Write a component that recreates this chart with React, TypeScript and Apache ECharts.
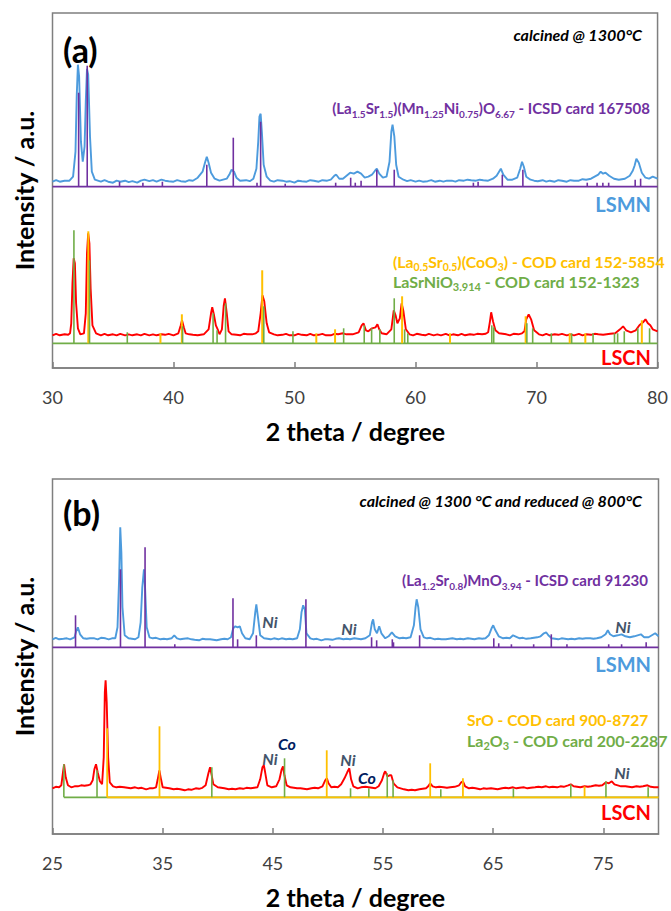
import React, { useEffect, useRef } from "react";
import * as echarts from "echarts";

// ---------------- DATA ----------------
// Panel (a): calcined @ 1300°C, 2θ from 30 to 80
const xTicksA = [30, 40, 50, 60, 70, 80];
const xTicksB = [25, 35, 45, 55, 65, 75];

// stacking offsets (a.u.) of each pattern's reference baseline
const offsetA_LSMN = 181.3;
const offsetA_LSCN = 24.7;
const offsetB_LSMN = 186.7;
const offsetB_LSCN = 36.7;

// LSMN measured pattern, panel (a): [2θ, intensity above its baseline]
const lsmnA: number[][] = [
  [30, 5], [30.3, 6.5], [30.6, 5], [31, 6], [31.4, 6], [31.7, 10], [31.9, 35], [32.0, 90], [32.1, 122], [32.2, 110],
  [32.35, 45], [32.5, 25], [32.65, 40], [32.75, 85], [32.85, 118], [32.95, 112], [33.1, 50], [33.25, 15], [33.5, 7],
  [34, 5], [34.3, 6.5], [34.6, 5], [35, 4], [35.3, 6], [35.6, 5], [36, 6], [36.3, 4.5], [36.6, 5.5], [37, 4], [37.3, 6],
  [37.6, 7], [38, 5.5], [38.3, 6.5], [38.6, 5], [39, 7], [39.3, 6], [39.6, 5.5], [40, 5], [40.3, 6.5], [40.6, 5.5], [41, 5],
  [41.3, 6.5], [41.6, 6], [42, 9], [42.4, 15], [42.6, 24], [42.75, 30], [42.9, 24], [43.1, 14], [43.4, 8], [43.8, 6],
  [44.1, 7], [44.4, 8], [44.65, 13], [44.8, 17], [45, 15], [45.2, 9], [45.5, 6], [46, 6.5], [46.3, 5.5], [46.6, 8],
  [46.85, 18], [47.0, 45], [47.1, 70], [47.2, 73], [47.3, 55], [47.45, 22], [47.7, 10], [48, 6], [48.3, 5], [48.6, 6.5],
  [49, 6], [49.3, 5], [49.6, 5.5], [50, 4], [50.3, 6], [50.6, 5.5], [51, 5], [51.3, 6.5], [51.6, 6], [52, 5], [52.3, 6.5],
  [52.7, 6], [53, 7], [53.3, 11], [53.45, 12], [53.7, 8], [54.0, 8], [54.3, 11], [54.6, 14], [54.9, 13], [55.2, 15],
  [55.5, 13], [55.8, 9], [56.1, 10], [56.4, 12], [56.65, 16], [56.8, 18], [57.0, 13], [57.3, 9], [57.6, 10], [57.85, 25],
  [58.0, 55], [58.1, 62], [58.25, 50], [58.4, 22], [58.6, 10], [59, 7], [59.3, 5.5], [59.6, 6.5], [60, 5], [60.3, 6],
  [60.6, 5], [61, 5.5], [61.3, 6.5], [61.6, 5], [62, 6], [62.3, 5], [62.6, 6], [63, 6], [63.3, 5], [63.6, 6.5], [64, 6],
  [64.3, 7], [64.6, 6.5], [65, 6], [65.3, 7], [65.6, 6.5], [66, 6], [66.4, 8], [66.7, 11], [66.9, 15], [67.05, 18],
  [67.25, 12], [67.6, 7], [68, 7], [68.4, 9], [68.65, 18], [68.8, 25], [68.95, 20], [69.15, 10], [69.5, 7], [69.8, 6],
  [70.1, 5.5], [70.5, 6.5], [70.8, 5], [71.1, 6], [71.5, 5], [71.8, 6.5], [72.1, 6], [72.5, 5], [72.8, 6.5], [73.1, 6],
  [73.5, 6], [73.8, 7.5], [74.1, 7], [74.5, 8], [74.8, 10], [75.1, 12], [75.3, 15], [75.5, 13], [75.7, 14], [76, 11],
  [76.4, 8], [76.8, 7], [77.3, 8], [77.7, 11], [77.95, 16], [78.1, 21], [78.25, 28], [78.45, 24], [78.7, 14], [79, 9],
  [79.3, 8], [79.6, 10], [80, 8],
];

// Reference: (La1.5Sr1.5)(Mn1.25Ni0.75)O6.67 - ICSD 167508 : [2θ, relative intensity]
const icsd167508: number[][] = [
  [32.16, 94], [32.87, 121], [35.54, 5], [37.47, 4], [39.08, 5], [42.75, 22], [44.94, 49], [46.9, 4], [47.2, 65],
  [49.23, 3], [53.4, 4], [54.64, 9], [55.02, 4], [55.5, 6], [56.8, 17], [58.24, 17], [64.78, 4], [65.17, 5], [67.17, 12],
  [68.87, 17], [74.19, 4], [75.0, 4], [75.48, 4], [75.96, 4], [78.15, 7], [78.6, 8],
];

// LSCN measured pattern, panel (a)
const lscnA: number[][] = [
  [30, 8], [30.3, 9.5], [30.6, 8], [31, 9], [31.3, 8.5], [31.45, 10], [31.55, 20], [31.65, 60], [31.75, 85], [31.85, 80],
  [31.95, 40], [32.1, 15], [32.3, 9], [32.6, 10], [32.75, 30], [32.85, 90], [32.95, 110], [33.05, 100], [33.15, 55],
  [33.3, 18], [33.6, 10], [34, 8], [34.3, 9.5], [34.6, 8], [35, 9], [35.3, 8], [35.6, 9.5], [36, 8], [36.3, 9], [36.6, 8],
  [37, 9], [37.3, 8], [37.6, 9.5], [38, 8], [38.3, 9], [38.6, 8], [39, 9], [39.3, 8.5], [39.6, 9.5], [40, 8], [40.4, 10],
  [40.6, 18], [40.7, 23], [40.85, 16], [41.0, 10], [41.3, 9], [41.6, 8.5], [42, 8], [42.5, 9], [42.9, 14], [43.1, 30],
  [43.2, 36], [43.35, 28], [43.5, 18], [43.65, 14], [43.8, 9], [44.0, 14], [44.15, 38], [44.25, 45], [44.4, 30],
  [44.55, 12], [44.8, 9], [45.2, 8.5], [45.5, 8], [45.8, 9.5], [46.1, 9], [46.5, 9], [46.8, 10], [47, 12], [47.2, 30],
  [47.35, 48], [47.5, 42], [47.7, 20], [47.9, 11], [48.3, 9], [48.6, 8], [49, 8.5], [49.3, 9.5], [49.6, 8], [50, 8],
  [50.3, 9.5], [50.6, 8.5], [51, 8], [51.3, 9.5], [51.6, 8], [52, 8.5], [52.3, 9.5], [52.6, 8], [53, 8], [53.3, 9.5],
  [53.6, 9], [54, 10], [54.3, 9], [54.8, 9], [55.3, 11], [55.55, 18], [55.7, 20], [55.9, 13], [56.1, 12], [56.4, 15],
  [56.7, 16], [56.85, 19], [57.0, 14], [57.2, 10], [57.6, 9], [58.0, 14], [58.2, 33], [58.35, 28], [58.5, 20], [58.7, 25],
  [58.85, 40], [59.0, 32], [59.2, 14], [59.5, 9], [59.8, 8], [60.1, 9.5], [60.5, 8.5], [60.8, 8], [61.1, 9.5], [61.5, 8],
  [61.8, 9], [62.1, 8], [62.5, 9.5], [62.8, 8], [63.1, 9], [63.5, 8], [63.8, 9.5], [64.1, 8], [64.5, 9], [64.8, 8.5],
  [65.1, 9.5], [65.5, 9], [65.8, 9.5], [66.0, 11], [66.15, 22], [66.25, 31], [66.4, 22], [66.6, 13], [66.9, 10],
  [67.2, 9.5], [67.5, 9], [67.8, 8], [68.1, 9.5], [68.5, 9], [68.8, 10], [69, 12], [69.15, 24], [69.35, 29], [69.55, 24],
  [69.8, 13], [70.2, 9], [70.5, 8], [70.8, 9.5], [71.1, 8], [71.5, 9], [71.8, 8.5], [72.1, 9.5], [72.5, 8], [72.8, 9],
  [73.1, 8], [73.5, 9.5], [73.8, 8], [74.1, 9], [74.5, 8.5], [74.8, 9.5], [75.1, 9], [75.5, 8.5], [75.8, 9], [76.1, 9.5],
  [76.5, 10], [76.9, 14], [77.15, 17], [77.4, 13], [77.8, 11], [78.2, 13], [78.5, 18], [78.8, 21], [79.0, 24], [79.2, 20],
  [79.4, 18], [79.6, 14], [80, 12],
];

// Reference: (La0.5Sr0.5)(CoO3) - COD 152-5854
const cod1525854: number[][] = [
  [32.96, 112], [38.92, 10], [40.69, 29], [47.33, 73], [51.8, 10], [53.35, 14], [58.89, 47], [62.85, 10], [69.1, 27],
  [72.74, 10], [74.03, 10], [78.7, 23],
];
// Reference: LaSrNiO3.914 - COD 152-1323
const cod1521323: number[][] = [
  [31.77, 113], [33.06, 83], [36.18, 11], [40.75, 17], [43.27, 30], [43.6, 13], [44.3, 40], [47.46, 37], [49.87, 12],
  [54.06, 15], [55.76, 18], [56.37, 15], [57.05, 14], [58.24, 45], [59.1, 14], [59.36, 10], [66.3, 18], [66.46, 16],
  [69.2, 20], [69.68, 15], [71.22, 10], [72.9, 10], [74.67, 10], [76.44, 10], [76.7, 10], [77.25, 12], [78.37, 15],
  [79.34, 15],
];

// Panel (b): calcined @ 1300 °C and reduced @ 800°C, 2θ from 25 to 80
const lsmnB: number[][] = [
  [25, 8], [25.3, 9.5], [25.6, 8], [26, 8.5], [26.3, 9], [26.6, 8], [27.0, 10], [27.15, 16], [27.3, 20], [27.5, 13],
  [27.8, 9], [28.1, 8.5], [28.4, 9], [28.8, 9], [29.1, 8], [29.4, 9.5], [29.8, 9], [30.1, 8], [30.4, 9], [30.7, 9],
  [30.9, 20], [31.05, 70], [31.15, 120], [31.25, 95], [31.35, 40], [31.55, 12], [31.9, 9], [32.2, 8.5], [32.5, 8],
  [32.8, 10], [33.0, 25], [33.15, 60], [33.3, 78], [33.4, 60], [33.55, 20], [33.8, 10], [34.1, 9], [34.4, 9.5],
  [34.8, 8], [35.1, 8.5], [35.4, 8], [35.8, 9], [36.05, 12], [36.3, 9], [36.6, 8], [36.9, 8.5], [37.3, 9], [37.6, 8],
  [37.9, 7.5], [38.3, 7], [38.6, 8.5], [38.9, 8], [39.3, 8], [39.6, 7.5], [39.9, 7], [40.3, 8], [40.6, 8.5], [40.9, 8],
  [41.2, 10], [41.4, 19], [41.6, 21], [41.8, 20], [42.0, 21], [42.2, 14], [42.5, 9], [42.9, 8], [43.2, 14], [43.4, 35],
  [43.5, 43], [43.65, 30], [43.85, 12], [44.2, 9], [44.5, 8.5], [44.8, 8], [45.1, 9], [45.5, 8], [45.8, 9], [46.2, 8],
  [46.5, 8.5], [46.8, 8], [47.2, 9], [47.45, 18], [47.6, 35], [47.75, 42], [47.9, 38], [48.05, 14], [48.4, 9], [48.7, 8],
  [49.0, 8.5], [49.4, 7], [49.7, 8], [50.0, 8], [50.4, 7.5], [50.7, 8.5], [51.0, 9], [51.4, 8], [51.7, 8.5], [52.0, 8],
  [52.4, 9], [52.7, 8.5], [53.0, 8], [53.4, 9], [53.8, 12], [54.0, 25], [54.1, 28], [54.25, 18], [54.45, 14],
  [54.65, 21], [54.85, 14], [55.2, 9], [55.5, 11], [55.8, 15], [56.1, 11], [56.5, 9], [56.8, 9.5], [57.1, 9], [57.5, 10],
  [57.8, 22], [57.95, 40], [58.05, 48], [58.2, 40], [58.4, 18], [58.7, 10], [59.0, 9], [59.3, 9.5], [59.7, 8], [60.0, 8.5],
  [60.3, 8], [60.7, 8], [61.0, 8.5], [61.3, 9], [61.7, 8], [62.0, 8.5], [62.3, 8], [62.7, 9], [63.0, 8.5], [63.3, 8],
  [63.7, 9], [64.0, 8.5], [64.3, 9], [64.6, 12], [64.85, 19], [65.0, 22], [65.2, 17], [65.5, 11], [65.9, 9], [66.2, 9.5],
  [66.5, 9], [66.8, 12], [67.0, 11], [67.4, 9], [67.7, 9.5], [68.0, 8.5], [68.4, 9], [68.7, 9.5], [69.0, 10], [69.3, 11],
  [69.6, 14], [69.8, 15], [70.0, 12], [70.3, 9], [70.6, 8.5], [70.9, 8], [71.2, 9], [71.5, 8.5], [71.8, 8], [72.1, 8.5],
  [72.4, 8], [72.8, 9], [73.1, 8.5], [73.4, 9], [73.8, 9], [74.1, 8.5], [74.4, 9], [74.8, 10], [75.2, 13], [75.4, 17],
  [75.6, 13], [75.9, 11], [76.3, 12], [76.65, 13], [77.0, 11], [77.4, 10], [77.8, 11], [78.1, 12], [78.4, 13], [78.7, 10],
  [79.1, 10], [79.4, 12], [79.7, 14], [80, 11],
];

// Reference: (La1.2Sr0.8)MnO3.94 - ICSD 91230
const icsd91230: number[][] = [
  [27.09, 32], [31.17, 78], [33.4, 100], [36.1, 3], [41.38, 49], [41.8, 8], [43.5, 12], [48.0, 48], [50.17, 2],
  [53.96, 10], [54.42, 7], [55.84, 8], [55.95, 5], [58.32, 12], [65.05, 9], [65.5, 4], [66.65, 3], [68.67, 3],
  [70.27, 13], [71.69, 3], [75.48, 3], [76.65, 3], [78.88, 5],
];

const lscnB: number[][] = [
  [25, 9], [25.3, 10.5], [25.6, 10], [25.8, 12], [25.95, 25], [26.05, 33], [26.2, 20], [26.4, 12], [26.7, 10],
  [27.0, 11], [27.3, 11], [27.6, 12], [27.9, 11.5], [28.2, 12], [28.45, 13], [28.65, 17], [28.8, 28], [28.95, 33],
  [29.1, 25], [29.3, 16], [29.5, 13], [29.65, 40], [29.75, 105], [29.82, 117], [29.92, 95], [30.05, 40], [30.2, 15],
  [30.5, 11], [30.8, 10], [31.1, 10.5], [31.5, 10], [31.8, 9.5], [32.1, 9], [32.5, 10], [32.8, 9], [33.1, 9.5],
  [33.5, 8], [33.8, 9], [34.1, 9], [34.4, 10], [34.55, 18], [34.7, 27], [34.85, 18], [35.0, 10], [35.3, 9.5], [35.6, 9],
  [36.0, 8], [36.3, 8.5], [36.6, 8], [37.0, 7], [37.3, 8], [37.6, 7.5], [38.0, 9], [38.3, 8.5], [38.6, 9.5], [38.9, 12],
  [39.15, 24], [39.3, 30], [39.45, 22], [39.6, 13], [40.0, 10], [40.3, 9.5], [40.6, 9], [41.0, 8], [41.3, 8.5],
  [41.6, 8], [42.0, 9], [42.3, 8.5], [42.6, 9.5], [43.0, 9], [43.3, 9.5], [43.6, 10], [43.85, 18], [44.05, 30],
  [44.18, 32], [44.3, 25], [44.5, 12], [44.9, 10], [45.3, 11], [45.6, 18], [45.8, 28], [45.92, 31], [46.05, 22],
  [46.25, 12], [46.6, 10], [46.9, 9.5], [47.2, 9], [47.5, 9], [47.8, 8.5], [48.1, 8], [48.5, 9], [48.8, 9.5], [49.1, 9],
  [49.5, 11], [49.75, 17], [49.9, 19], [50.05, 14], [50.3, 10], [50.6, 10.5], [50.9, 10], [51.2, 13], [51.5, 19],
  [51.75, 25], [51.94, 29], [52.1, 18], [52.3, 11], [52.7, 9], [53.0, 10], [53.4, 10.5], [53.7, 10], [54.0, 9.5],
  [54.3, 9], [54.6, 11], [54.9, 17], [55.1, 24], [55.2, 26], [55.4, 21], [55.6, 22], [55.75, 22], [55.95, 14],
  [56.3, 10], [56.6, 9], [56.9, 8], [57.3, 7], [57.6, 7.5], [57.9, 7], [58.3, 8], [58.6, 8.5], [58.9, 9], [59.1, 11],
  [59.28, 14], [59.5, 11], [59.8, 10], [60.1, 10.5], [60.5, 10], [60.8, 9.5], [61.1, 10], [61.5, 10.5], [61.9, 12],
  [62.1, 15], [62.25, 16], [62.45, 11], [62.8, 9], [63.1, 9.5], [63.4, 9], [63.8, 8], [64.1, 9], [64.4, 8.5], [64.8, 9],
  [65.1, 8.5], [65.4, 8], [65.8, 9], [66.1, 9.5], [66.4, 9], [66.8, 10], [67.1, 9], [67.4, 9.5], [67.8, 10], [68.1, 9],
  [68.4, 9.5], [68.8, 10], [69.1, 10.5], [69.4, 10], [69.8, 11], [70.1, 10], [70.4, 10.5], [70.8, 10], [71.1, 11],
  [71.4, 10.5], [71.8, 12], [72.04, 13], [72.3, 11], [72.6, 10.5], [72.9, 10], [73.3, 11], [73.6, 10.5], [73.9, 11],
  [74.3, 12], [74.6, 11.5], [74.9, 12], [75.23, 15], [75.5, 14], [75.76, 16], [76.0, 13], [76.3, 12], [76.6, 11],
  [77.0, 11], [77.3, 10.5], [77.6, 10], [78.0, 11], [78.3, 10.5], [78.6, 11], [79.0, 12], [79.3, 10.5], [79.6, 10],
  [80, 10],
];

// Reference: SrO - COD 900-8727
const cod9008727: number[][] = [
  [29.96, 69], [34.71, 71], [49.89, 47], [59.28, 34], [62.25, 19], [73.29, 11],
];
// Reference: La2O3 - COD 200-2287
const cod2002287: number[][] = [
  [26.03, 33], [29.04, 27], [39.46, 30], [46.06, 39], [52.05, 9], [53.71, 9], [55.38, 24], [55.91, 17], [60.24, 8],
  [66.83, 9], [72.04, 13], [75.23, 16], [79.06, 10],
];

// ---------------- STYLE ----------------
const FONT = "Lato, Carlito, 'Open Sans', sans-serif";
const C_BLUE = "#4D9BDD";
const C_RED = "#FF0000";
const C_PURPLE = "#7030A0";
const C_YELLOW = "#FFC000";
const C_GREEN = "#70AD47";
const C_NI = "#44546A";
const C_CO = "#002060";
const C_AXIS = "#7F7F7F";

function shift(arr: number[][], off: number) {
  return arr.map(([x, y]) => [x, off + y]);
}

function stickSeries(arr: number[][], off: number, color: string, idx: number, width: number, z: number) {
  return {
    type: "custom",
    xAxisIndex: idx,
    yAxisIndex: idx,
    z,
    silent: true,
    data: arr.map(([x, h]) => [x, off, off + h]),
    encode: { x: 0, y: [1, 2] },
    renderItem: (_p: any, api: any) => {
      const x = api.value(0);
      const a = api.coord([x, api.value(1)]);
      const b = api.coord([x, api.value(2)]);
      return {
        type: "line",
        shape: { x1: a[0], y1: a[1], x2: b[0], y2: b[1] },
        style: { stroke: color, lineWidth: width },
      };
    },
  };
}

function lineSeries(data: number[][], color: string, idx: number, width: number, z: number) {
  return {
    type: "line",
    xAxisIndex: idx,
    yAxisIndex: idx,
    data,
    z,
    silent: true,
    symbol: "none",
    lineStyle: { color, width },
  };
}

function rich(text: string, color: string, size: number, sub: number) {
  const base = { fontFamily: FONT, fontWeight: "bold", fill: color, color, lineHeight: 22 };
  return {
    text,
    rich: {
      m: { ...base, fontSize: size, verticalAlign: "middle" },
      s: { ...base, fontSize: sub, verticalAlign: "bottom" },
    },
  };
}

function txt(x: number, y: number, text: string, opts: any) {
  return {
    type: "text",
    x,
    y,
    silent: true,
    style: {
      text,
      fill: opts.color || "#000",
      font: `${opts.italic ? "italic " : ""}${opts.bold ? "bold " : ""}${opts.size}px ${FONT}`,
      textAlign: opts.align || "left",
      textVerticalAlign: "middle",
    },
    rotation: opts.rotation || 0,
  };
}

function richTxt(x: number, y: number, r: any, align: string) {
  return {
    type: "text",
    x,
    y,
    silent: true,
    style: { ...r, textAlign: align, textVerticalAlign: "middle" },
  };
}

export default function App() {
  const ref = useRef<HTMLDivElement>(null);
  useEffect(() => {
    document.body.style.margin = "0";
    const chart = echarts.init(ref.current!, undefined, { renderer: "svg" });

    const xAxisBase = (min: number, max: number, idx: number, ticks: number[]) => ({
      type: "value",
      gridIndex: idx,
      min,
      max,
      interval: 10,
      axisLine: { show: true, lineStyle: { color: C_AXIS, width: 1.5 } },
      axisTick: { show: true, inside: true, length: 6, customValues: ticks, lineStyle: { color: C_AXIS, width: 1.5 } },
      axisLabel: {
        color: "#404040",
        fontSize: 18,
        fontFamily: FONT,
        margin: 20,
        customValues: ticks,
      },
      splitLine: { show: false },
    });
    const yAxisBase = (idx: number) => ({
      type: "value",
      gridIndex: idx,
      min: 0,
      max: 355,
      show: false,
    });

    const option: any = {
      animation: false,
      grid: [
        { left: 52.5, top: 13, width: 605.5, height: 355, show: true, borderColor: C_AXIS, borderWidth: 1.5, backgroundColor: "#fff" },
        { left: 52.5, top: 479, width: 606, height: 355, show: true, borderColor: C_AXIS, borderWidth: 1.5, backgroundColor: "#fff" },
      ],
      xAxis: [xAxisBase(xTicksA[0], 80, 0, xTicksA), xAxisBase(xTicksB[0], 80, 1, xTicksB)],
      yAxis: [yAxisBase(0), yAxisBase(1)],
      series: [
        // panel (a)
        lineSeries(shift(lsmnA, offsetA_LSMN), C_BLUE, 0, 1.9, 2),
        lineSeries([[30, offsetA_LSMN], [80, offsetA_LSMN]], C_PURPLE, 0, 1.8, 3),
        stickSeries(icsd167508, offsetA_LSMN, C_PURPLE, 0, 1.6, 4),
        lineSeries(shift(lscnA, offsetA_LSCN), C_RED, 0, 1.9, 2),
        lineSeries([[30, offsetA_LSCN], [80, offsetA_LSCN]], C_GREEN, 0, 1.8, 3),
        stickSeries(cod1525854, offsetA_LSCN, C_YELLOW, 0, 2, 4),
        stickSeries(cod1521323, offsetA_LSCN, C_GREEN, 0, 1.6, 5),
        // panel (b)
        lineSeries(shift(lsmnB, offsetB_LSMN), C_BLUE, 1, 1.9, 2),
        lineSeries([[25, offsetB_LSMN], [80, offsetB_LSMN]], C_PURPLE, 1, 1.8, 3),
        stickSeries(icsd91230, offsetB_LSMN, C_PURPLE, 1, 1.6, 4),
        lineSeries(shift(lscnB, offsetB_LSCN), C_RED, 1, 1.9, 2),
        lineSeries([[cod2002287[0][0], offsetB_LSCN], [80, offsetB_LSCN]], C_GREEN, 1, 1.8, 3),
        lineSeries([[cod9008727[0][0], offsetB_LSCN], [80, offsetB_LSCN]], C_YELLOW, 1, 1.8, 3),
        stickSeries(cod9008727, offsetB_LSCN, C_YELLOW, 1, 1.8, 4),
        stickSeries(cod2002287, offsetB_LSCN, C_GREEN, 1, 1.6, 5),
      ],
      graphic: [
        // panel (a)
        txt(63, 49, "(a)", { bold: true, size: 34 }),
        txt(642, 34, "calcined @ 1300°C", { bold: true, italic: true, size: 16, align: "right" }),
        txt(24, 190.5, "Intensity / a.u.", { bold: true, size: 25, align: "center", rotation: Math.PI / 2 }),
        txt(355.5, 431, "2 theta / degree", { bold: true, size: 25, align: "center" }),
        richTxt(650, 108, rich("{m|(La}{s|1.5}{m|Sr}{s|1.5}{m|)(Mn}{s|1.25}{m|Ni}{s|0.75}{m|)O}{s|6.67}{m| - ICSD card 167508}", C_PURPLE, 15, 10), "right"),
        txt(651, 204, "LSMN", { bold: true, size: 20, color: C_BLUE, align: "right" }),
        richTxt(393, 261, rich("{m|(La}{s|0.5}{m|Sr}{s|0.5}{m|)(CoO}{s|3}{m|) - COD card 152-5854}", C_YELLOW, 15.8, 10.5), "left"),
        richTxt(393, 281, rich("{m|LaSrNiO}{s|3.914}{m| - COD card 152-1323}", C_GREEN, 16, 11), "left"),
        txt(651, 357, "LSCN", { bold: true, size: 20, color: C_RED, align: "right" }),
        // panel (b)
        txt(63, 512, "(b)", { bold: true, size: 34 }),
        txt(642, 500, "calcined @ 1300 °C and reduced @ 800°C", { bold: true, italic: true, size: 16, align: "right" }),
        txt(24, 656.5, "Intensity / a.u.", { bold: true, size: 25, align: "center", rotation: Math.PI / 2 }),
        txt(355.5, 897, "2 theta / degree", { bold: true, size: 25, align: "center" }),
        richTxt(648, 580, rich("{m|(La}{s|1.2}{m|Sr}{s|0.8}{m|)MnO}{s|3.94}{m| - ICSD card 91230}", C_PURPLE, 15, 10), "right"),
        txt(651, 664, "LSMN", { bold: true, size: 20, color: C_BLUE, align: "right" }),
        richTxt(467, 720, rich("{m|SrO - COD card 900-8727}", C_YELLOW, 15.6, 11), "left"),
        richTxt(467, 740, rich("{m|La}{s|2}{m|O}{s|3}{m| - COD card 200-2287}", C_GREEN, 16, 11), "left"),
        txt(651, 812, "LSCN", { bold: true, size: 20, color: C_RED, align: "right" }),
        // phase markers
        txt(270, 621, "Ni", { bold: true, italic: true, size: 16, color: C_NI, align: "center" }),
        txt(349, 628, "Ni", { bold: true, italic: true, size: 16, color: C_NI, align: "center" }),
        txt(623, 626, "Ni", { bold: true, italic: true, size: 16, color: C_NI, align: "center" }),
        txt(270, 758, "Ni", { bold: true, italic: true, size: 16, color: C_NI, align: "center" }),
        txt(287, 743, "Co", { bold: true, italic: true, size: 16, color: C_CO, align: "center" }),
        txt(348, 759, "Ni", { bold: true, italic: true, size: 16, color: C_NI, align: "center" }),
        txt(367, 777, "Co", { bold: true, italic: true, size: 16, color: C_CO, align: "center" }),
        txt(622, 772, "Ni", { bold: true, italic: true, size: 16, color: C_NI, align: "center" }),
      ],
    };
    chart.setOption(option);
    return () => chart.dispose();
  }, []);
  return (
    <div
      ref={ref}
      style={{ position: "absolute", left: 0, top: 0, width: 671, height: 911, background: "#fff" }}
    />
  );
}
